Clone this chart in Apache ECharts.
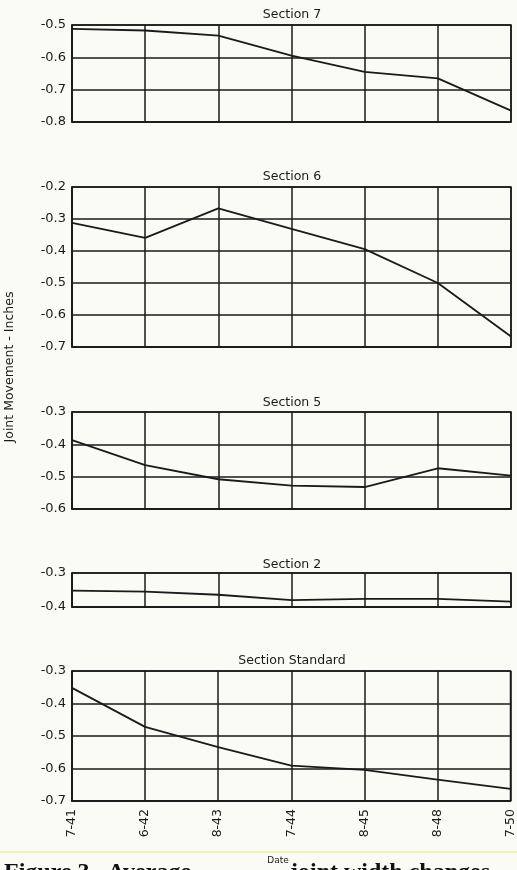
<!DOCTYPE html>
<html>
<head>
<meta charset="utf-8">
<script src="https://cdn.jsdelivr.net/npm/echarts@6/dist/echarts.min.js"></script>
<style>
  html, body { margin: 0; padding: 0; background: #fbfbf5; }
  #chart { width: 517px; height: 870px; }
</style>
</head>
<body>
<div id="chart"></div>
<script>
  // dates of survey (x axis)
  var dates = ['7-41', '6-42', '8-43', '7-44', '8-45', '8-48', '7-50'];

  // joint movement, inches
  var section7 = [-0.512, -0.517, -0.533, -0.595, -0.645, -0.665, -0.765];
  var section6 = [-0.312, -0.359, -0.267, -0.331, -0.394, -0.500, -0.667];
  var section5 = [-0.387, -0.464, -0.508, -0.528, -0.532, -0.474, -0.497];
  var section2 = [-0.352, -0.355, -0.364, -0.380, -0.376, -0.376, -0.384];
  var sectionStandard = [-0.352, -0.472, -0.534, -0.591, -0.604, -0.634, -0.663];

  var panelTitles = ['Section 7', 'Section 6', 'Section 5', 'Section 2', 'Section Standard'];
  var panelData = [section7, section6, section5, section2, sectionStandard];
  var yMin = [-0.8, -0.7, -0.6, -0.4, -0.7];
  var yMax = [-0.5, -0.2, -0.3, -0.3, -0.3];

  // layout of the five stacked panels
  var panelTop = [25, 187, 412, 573, 671];
  var panelHeight = [97, 160, 97, 34, 130];
  var titleTop = [8, 170, 396, 558, 654];

  var ink = '#1a1a1a';
  var font = 'DejaVu Sans';

  var grids = [], xAxes = [], yAxes = [], series = [], titles = [];
  for (var i = 0; i < panelTitles.length; i++) {
    var last = i === panelTitles.length - 1;
    grids.push({
      left: 72, right: 6, top: panelTop[i], height: panelHeight[i],
      show: true, borderColor: ink, borderWidth: 1.5
    });
    titles.push({
      text: panelTitles[i],
      left: 292, top: titleTop[i], textAlign: 'center', padding: 0,
      textStyle: { fontFamily: font, fontSize: 12.5, fontWeight: 'normal', color: ink }
    });
    xAxes.push({
      type: 'category', gridIndex: i, data: dates, boundaryGap: false,
      axisLine: { lineStyle: { color: ink, width: 1.5 } },
      axisTick: { show: false },
      axisLabel: last ? {
        rotate: 90, margin: 8, fontFamily: font, fontSize: 12.5, color: ink
      } : { show: false },
      splitLine: { show: true, lineStyle: { color: ink, width: 1.5 } }
    });
    yAxes.push({
      type: 'value', gridIndex: i, min: yMin[i], max: yMax[i], interval: 0.1,
      axisLine: { show: true, lineStyle: { color: ink, width: 1.5 } },
      axisTick: { show: false },
      axisLabel: {
        margin: 6, fontFamily: font, fontSize: 13, color: ink,
        formatter: function (v) { return v.toFixed(1); }
      },
      splitLine: { show: true, lineStyle: { color: ink, width: 1.5 } }
    });
    series.push({
      name: panelTitles[i], type: 'line', xAxisIndex: i, yAxisIndex: i,
      data: panelData[i], symbol: 'none', smooth: false,
      lineStyle: { color: ink, width: 1.8 }
    });
  }

  var chart = echarts.init(document.getElementById('chart'));
  chart.setOption({
    backgroundColor: '#fbfbf5',
    animation: false,
    title: titles,
    grid: grids,
    xAxis: xAxes,
    yAxis: yAxes,
    series: series,
    graphic: [
      {
        type: 'text', x: 10, y: 367, rotation: Math.PI / 2,
        style: {
          text: 'Joint Movement - Inches', fill: ink,
          font: '12.5px "DejaVu Sans"',
          align: 'center', verticalAlign: 'middle',
          textAlign: 'center', textVerticalAlign: 'middle'
        }
      },
      {
        type: 'line', z: 1,
        shape: { x1: 0, y1: 852, x2: 517, y2: 852 },
        style: { stroke: '#ecef9c', lineWidth: 1.5 }
      },
      {
        type: 'text', x: 4, y: 861, z: 2,
        style: {
          text: 'Figure 3.  Average', fill: '#111',
          font: 'bold 24px "Liberation Serif"',
          align: 'left', verticalAlign: 'top',
          textAlign: 'left', textVerticalAlign: 'top'
        }
      },
      {
        type: 'text', x: 290, y: 861, z: 2,
        style: {
          text: 'joint width changes', fill: '#111',
          font: 'bold 24px "Liberation Serif"',
          align: 'left', verticalAlign: 'top',
          textAlign: 'left', textVerticalAlign: 'top'
        }
      },
      {
        type: 'text', x: 278, y: 861, z: 5,
        style: {
          text: 'Date', fill: ink, backgroundColor: '#fbfbf5',
          font: '9px "DejaVu Sans"',
          align: 'center', verticalAlign: 'middle',
          textAlign: 'center', textVerticalAlign: 'middle'
        }
      }
    ]
  });
</script>
</body>
</html>
